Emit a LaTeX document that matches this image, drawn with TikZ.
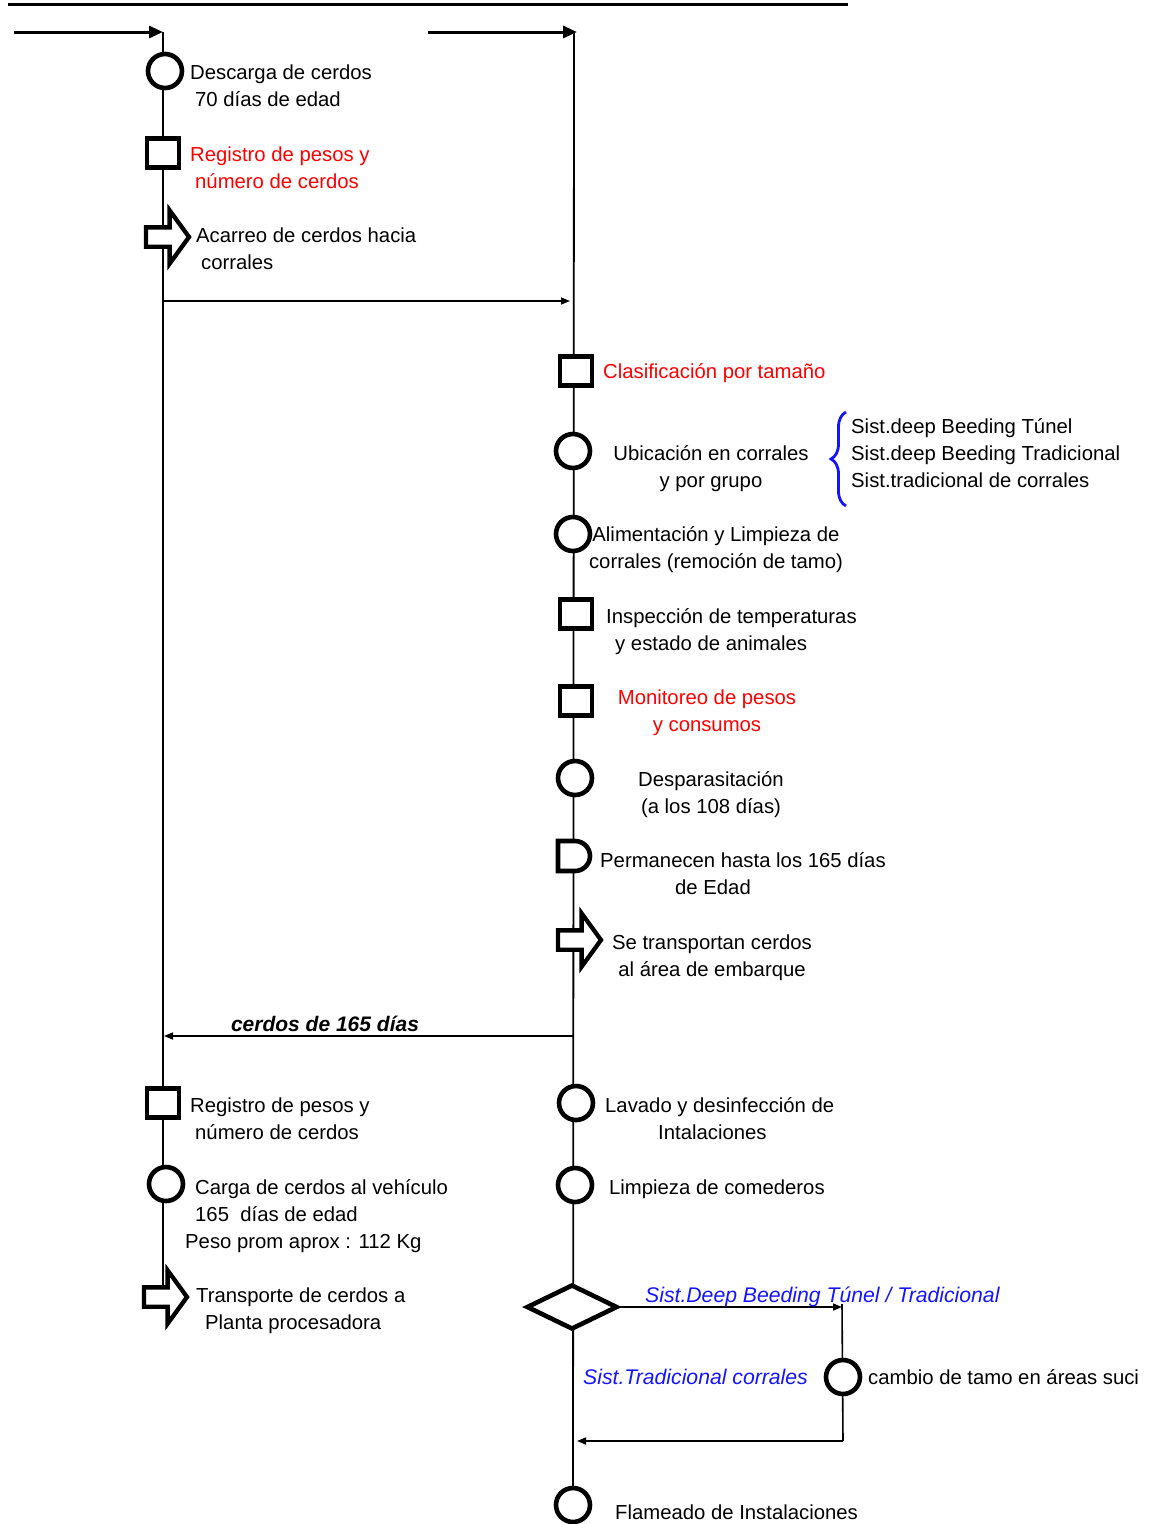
\documentclass[tikz,border=0pt]{standalone}
\usepackage{fontspec}
\setmainfont{Liberation Sans}
\usetikzlibrary{arrows.meta,shapes.geometric,shapes.arrows,decorations.pathreplacing}
\definecolor{rojo}{RGB}{255,0,0}
\definecolor{azul}{RGB}{20,20,255}
% multi-line labels are placed by the baseline of their last line
\begin{document}
\begin{tikzpicture}[x=1pt,y=-1pt,
  txt/.style={font=\fontsize{20.3}{27}\selectfont, inner sep=0pt, align=left, anchor=base west},
  ctxt/.style={font=\fontsize{20.3}{27}\selectfont, inner sep=0pt, align=center, anchor=base},
  itx/.style={font=\fontsize{21.2}{27}\selectfont\itshape, text=azul},
  oper/.style={circle, draw, line width=4.6pt, fill=white, minimum size=34pt, inner sep=0pt},
  insp/.style={rectangle, draw, line width=4.6pt, fill=white, minimum width=32pt, minimum height=29pt, inner sep=0pt},
  move/.style={single arrow, draw, line width=4.3pt, fill=white, inner xsep=0pt, inner ysep=7.5pt,
               minimum height=43pt, single arrow head extend=17pt, single arrow tip angle=108},
  decide/.style={diamond, draw, line width=4.6pt, fill=white, aspect=2, inner sep=0pt,
                 minimum width=91pt, minimum height=45pt},
  vline/.style={line width=1.8pt},
  entry/.style={line width=3pt, -{Triangle[length=14pt,width=12pt]}},
  flow/.style={line width=1.5pt, -{Triangle[length=9pt,width=7pt]}},
  plain/.style={line width=1.6pt}]
\useasboundingbox (0,0) rectangle (1152,1524);

% header rule
\coordinate (ruleA) at (8,4);
\coordinate (ruleB) at (848,4);
\draw[line width=3pt] (ruleA) -- (ruleB);

% main flow lines
\coordinate (inL) at (14,32);
\coordinate (topL) at (163,32);
\coordinate (endL) at (163,1290);
\coordinate (inR) at (428,32);
\coordinate (topR) at (574,32);
\coordinate (endR) at (573,1505);
\draw[vline] (topL) -- (endL);
\draw[vline] (topR) -- (endR);
\draw[entry] (inL) -- (topL);
\draw[entry] (inR) -- ([xshift=3pt]topR);

% transfer to pens and return of finished pigs
\coordinate (toPens) at (163,301);
\coordinate (atPens) at (570,301);
\draw[flow] (toPens) -- (atPens);
\coordinate (fromPens) at (574,1036);
\coordinate (backL) at (164,1036);
\draw[flow] (fromPens) -- (backL);
\node[font=\fontsize{21}{27}\selectfont\bfseries\itshape, inner sep=0pt, anchor=base] (lbl165) at (325,1031) {cerdos de 165 días};

% ---- left column: reception ----
\node[oper] (desc) at (165,71) {};
\node[txt] (tdesc) at (190,106) {Descarga de cerdos\\\hspace*{5pt}70 días de edad};
\node[insp] (reg1) at (163,153) {};
\node[txt, text=rojo] (treg1) at (190,188) {Registro de pesos y\\\hspace*{5pt}número de cerdos};
\node[move] (aca) at (164,237) {};
\node[txt] (taca) at (196,269) {Acarreo de cerdos hacia\\\hspace*{5pt}corrales};

% ---- right column: fattening ----
\node[insp] (clas) at (576,371) {};
\node[txt, text=rojo] (tclas) at (603,378) {Clasificación por tamaño};
\node[oper] (ubic) at (573,451) {};
\node[ctxt] (tubic) at (711,487) {Ubicación en corrales\\y por grupo};
\draw[azul, line width=2.8pt, decorate, decoration={brace, amplitude=15pt}] (846,506) -- (846,412);
\node[txt] (tsist) at (851,487) {Sist.deep Beeding Túnel\\Sist.deep Beeding Tradicional\\Sist.tradicional de corrales};
\node[oper] (alim) at (573,534) {};
\node[ctxt] (talim) at (716,568) {Alimentación y Limpieza de\\corrales (remoción de tamo)};
\node[insp] (insptemp) at (576,614) {};
\node[txt] (tinsp) at (606,650) {Inspección de temperaturas\\\hspace*{9pt}y estado de animales};
\node[insp] (monit) at (576,701) {};
\node[ctxt, text=rojo] (tmonit) at (707,731) {Monitoreo de pesos\\y consumos};
\node[oper] (desp) at (575,778) {};
\node[ctxt] (tdesp) at (711,813) {Desparasitación\\(a los 108 días)};
\coordinate (perm) at (575,856);
\draw[line width=4.6pt, fill=white] (558,841) -- (575,841) arc[start angle=90, end angle=-90, radius=15pt] -- (558,871) -- cycle;
\node[txt] (tperm) at (600,894) {Permanecen hasta los 165 días\\\hspace*{75pt}de Edad};
\node[move] (trans) at (576,940) {};
\node[ctxt] (ttrans) at (712,976) {Se transportan cerdos\\al área de embarque};

% ---- right column: cleaning ----
\node[oper] (lav) at (576,1103) {};
\node[txt] (tlav) at (605,1139) {Lavado y desinfección de\\\hspace*{53pt}Intalaciones};
\node[oper] (limp) at (575,1185) {};
\node[txt] (tlimp) at (609,1194) {Limpieza de comederos};
\node[decide] (dec) at (572,1307) {};
\coordinate (jTop) at (842,1307);
\coordinate (jBot) at (843,1441);
\coordinate (rejoin) at (577,1441);
\draw[flow] (dec.east) -- (jTop);
\draw[plain] ([yshift=3pt]jTop) -- (jBot);
\draw[flow] (jBot) -- (rejoin);
\node[oper] (camb) at (843,1377) {};
\node[txt, itx] (tdeep) at (645,1302) {Sist.Deep Beeding Túnel / Tradicional};
\node[txt, itx] (ttradc) at (583,1384) {Sist.Tradicional corrales};
\node[txt] (tcamb) at (868,1384) {cambio de tamo en áreas suci};
\node[oper] (flam) at (573,1505) {};
\node[txt] (tflam) at (615,1519) {Flameado de Instalaciones};

% ---- left column: dispatch ----
\node[insp] (reg2) at (163,1103) {};
\node[txt] (treg2) at (190,1139) {Registro de pesos y\\\hspace*{5pt}número de cerdos};
\node[oper] (carga) at (166,1184) {};
\node[txt] (tcarga) at (195,1248) {Carga de cerdos al vehículo\\165~~días de edad\\\hspace*{-10pt}Peso prom aprox : 112 Kg};
\node[move] (tra) at (162,1297) {};
\node[txt] (ttra) at (196,1329) {Transporte de cerdos a\\\hspace*{9pt}Planta procesadora};
\end{tikzpicture}
\end{document}
